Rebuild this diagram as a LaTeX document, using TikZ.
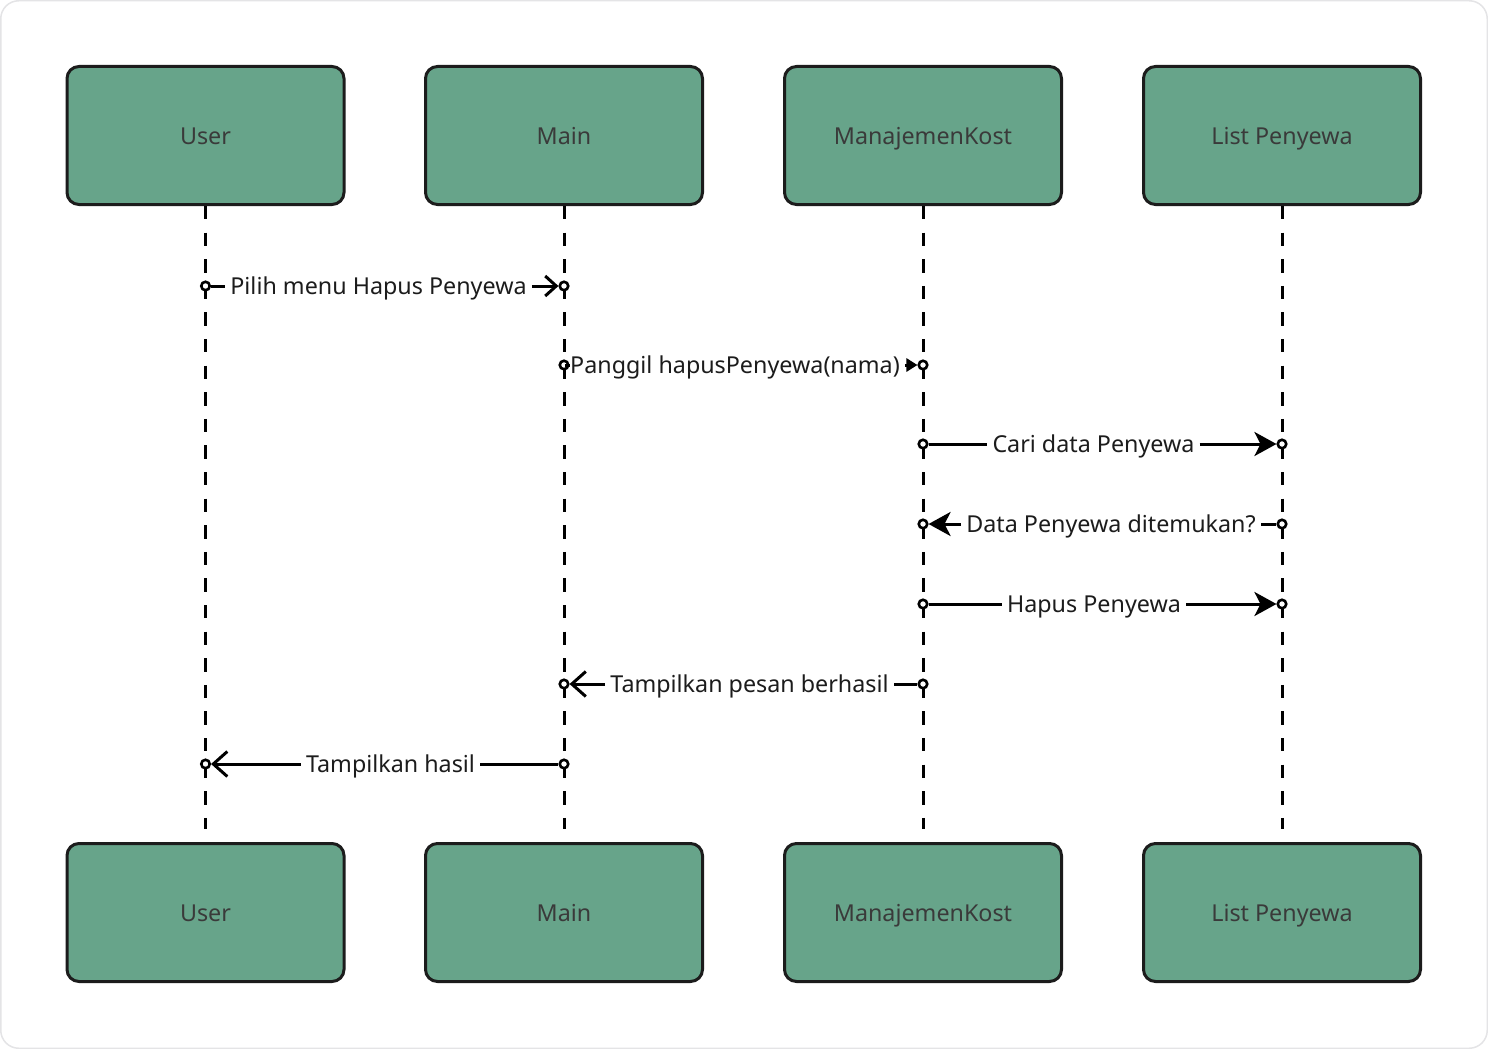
\documentclass[tikz,border=0pt]{standalone}
\usepackage{fontspec}
\setmainfont{Noto Sans}
\usetikzlibrary{arrows.meta}
\definecolor{boxgreen}{RGB}{103,164,138}
\definecolor{boxline}{RGB}{28,28,28}
\definecolor{boxtext}{RGB}{58,58,58}
\definecolor{msgtext}{RGB}{28,28,28}
\definecolor{framegray}{RGB}{228,228,230}

\begin{document}
\begin{tikzpicture}[x=1pt,y=-1pt,
  actor/.style={draw=boxline, fill=boxgreen, line width=3pt, rounded corners=12pt,
    minimum width=277pt, minimum height=138pt, inner sep=0pt, text=boxtext,
    font=\fontsize{23.3}{28}\selectfont, text height=17pt, text depth=0pt},
  lifeline/.style={line width=3pt, dash pattern=on 13.3pt off 13.3pt, draw=black, shorten >=13pt},
  port/.style={circle, draw=black, fill=white, line width=2.6pt, minimum size=8.5pt, inner sep=0pt},
  msg/.style={text=msgtext, font=\fontsize{23.3}{28}\selectfont, inner sep=5pt,
    text height=17pt, text depth=0pt},
  wire/.style={line width=3pt, draw=black},
  openhead/.style={-{Straight Barb[length=11pt,width=20pt,line width=3pt]}},
  widehead/.style={-{Straight Barb[length=14pt,width=25pt,line width=3pt]}},
  smallhead/.style={-{Triangle[length=11pt,width=13pt]}},
  bighead/.style={-{Stealth[length=22pt,width=24pt,inset=6pt]}},
]
% page and frame
\useasboundingbox (0,0) rectangle (1488,1049);
\draw[framegray, line width=1.5pt, rounded corners=18pt, fill=white] (0.75,0.75) rectangle (1487.25,1048.25);

% participants, top row
\node[actor] (u) at (205.5,135.5) {User};
\node[actor] (m) at (564,135.5) {Main};
\node[actor] (k) at (923,135.5) {ManajemenKost};
\node[actor] (l) at (1282,135.5) {List Penyewa};
% participants, bottom row
\node[actor] (u2) at (205.5,912.5) {User};
\node[actor] (m2) at (564,912.5) {Main};
\node[actor] (k2) at (923,912.5) {ManajemenKost};
\node[actor] (l2) at (1282,912.5) {List Penyewa};

% lifelines
\draw[lifeline] (u.south) -- (u2.north);
\draw[lifeline] (m.south) -- (m2.north);
\draw[lifeline] (k.south) -- (k2.north);
\draw[lifeline] (l.south) -- (l2.north);

% 1: User -> Main
\node[port] (p1a) at (205.5,286) {};
\node[port] (p1b) at (564,286) {};
\node[msg] (t1) at (378.5,286) {Pilih menu Hapus Penyewa};
\draw[wire] (p1a) -- (t1.west);
\draw[wire, openhead] (t1.east) -- (p1b);

% 2: Main -> ManajemenKost
\node[port] (p2a) at (564,365) {};
\node[port] (p2b) at (923,365) {};
\node[msg] (t2) at (735,365) {Panggil hapusPenyewa(nama)};
\draw[wire] (p2a) -- (t2.west);
\draw[wire, smallhead] (t2.east) -- (p2b);

% 3: ManajemenKost -> List Penyewa
\node[port] (p3a) at (923,444) {};
\node[port] (p3b) at (1282,444) {};
\node[msg] (t3) at (1093.5,444) {Cari data Penyewa};
\draw[wire] (p3a) -- (t3.west);
\draw[wire, bighead] (t3.east) -- (p3b);

% 4: List Penyewa -> ManajemenKost
\node[port] (p4a) at (1282,524) {};
\node[port] (p4b) at (923,524) {};
\node[msg] (t4) at (1111,524) {Data Penyewa ditemukan?};
\draw[wire] (p4a) -- (t4.east);
\draw[wire, bighead] (t4.west) -- (p4b);

% 5: ManajemenKost -> List Penyewa
\node[port] (p5a) at (923,604) {};
\node[port] (p5b) at (1282,604) {};
\node[msg] (t5) at (1094,604) {Hapus Penyewa};
\draw[wire] (p5a) -- (t5.west);
\draw[wire, bighead] (t5.east) -- (p5b);

% 6: ManajemenKost -> Main
\node[port] (p6a) at (923,684) {};
\node[port] (p6b) at (564,684) {};
\node[msg] (t6) at (749.5,684) {Tampilkan pesan berhasil};
\draw[wire] (p6a) -- (t6.east);
\draw[wire, widehead] (t6.west) -- (p6b);

% 7: Main -> User
\node[port] (p7a) at (564,764) {};
\node[port] (p7b) at (205.5,764) {};
\node[msg] (t7) at (390.5,764) {Tampilkan hasil};
\draw[wire] (p7a) -- (t7.east);
\draw[wire, widehead] (t7.west) -- (p7b);
\end{tikzpicture}
\end{document}
